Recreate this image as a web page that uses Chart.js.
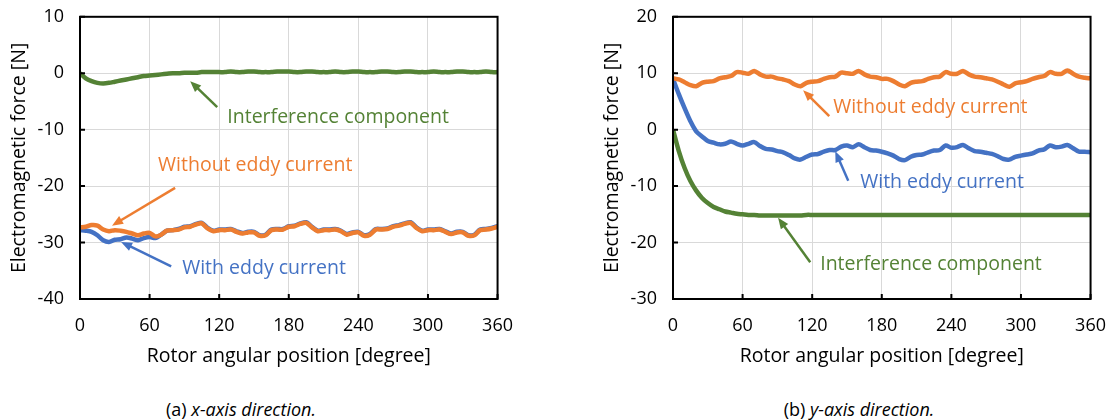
<!DOCTYPE html>
<html>
<head>
<meta charset="utf-8">
<script src="https://cdn.jsdelivr.net/npm/chart.js@4.4.1/dist/chart.umd.min.js"></script>
<style>
  body { margin: 0; background: #fff; width: 1109px; height: 420px; position: relative; overflow: hidden; font-family: 'Open Sans', sans-serif; }
  .panel { position: absolute; top: -10px; width: 529px; height: 382px; }
  .caption { position: absolute; top: 397px; width: 300px; font-size: 18px; color: #000; text-align: center; }
</style>
</head>
<body>
<div class="panel" style="left:0"><canvas id="graficoX"></canvas></div>
<div class="panel" style="left:593px"><canvas id="graficoY"></canvas></div>
<div class="caption" style="left:91px">(a) <i>x-axis direction.</i></div>
<div class="caption" style="left:709px">(b) <i>y-axis direction.</i></div>
<script>
// Posición angular del rotor [grados]
const angulos = [0, 5, 10, 15, 20, 25, 30, 35, 40, 45, 50, 55, 60, 65, 70, 75, 80, 85, 90,
  95, 100, 105, 110, 115, 120, 125, 130, 135, 140, 145, 150, 155, 160, 165, 170, 175, 180,
  185, 190, 195, 200, 205, 210, 215, 220, 225, 230, 235, 240, 245, 250, 255, 260, 265, 270,
  275, 280, 285, 290, 295, 300, 305, 310, 315, 320, 325, 330, 335, 340, 345, 350, 355, 360];

// Dirección x [N]
const xSinFoucault = [-27.3, -27.2, -26.9, -27.0, -27.7, -28.0, -27.8, -27.9, -28.1, -28.4, -28.7, -28.4, -28.3, -28.9, -28.6, -27.9, -27.8, -27.7, -27.3,
  -27.2, -26.8, -26.6, -27.5, -28.0, -27.8, -27.8, -27.7, -28.1, -28.4, -28.2, -28.2, -28.8, -28.7, -27.8, -27.7, -27.7, -27.2,
  -27.1, -26.7, -26.5, -27.3, -28.0, -27.8, -27.8, -27.7, -28.0, -28.6, -28.3, -28.2, -28.8, -28.6, -27.7, -27.7, -27.6, -27.2,
  -27.0, -26.7, -26.5, -27.4, -28.0, -27.8, -27.8, -27.7, -28.1, -28.5, -28.2, -28.2, -28.8, -28.7, -27.8, -27.7, -27.5, -27.2];
const xConFoucault = [-27.8, -27.9, -28.1, -28.7, -29.6, -29.9, -29.5, -29.4, -29.1, -29.3, -29.6, -29.2, -29.0, -29.2, -28.6, -27.9, -27.8, -27.6, -27.2,
  -27.1, -26.7, -26.5, -27.4, -27.9, -27.7, -27.7, -27.6, -28.0, -28.3, -28.1, -28.1, -28.7, -28.6, -27.7, -27.6, -27.6, -27.1,
  -27.0, -26.6, -26.4, -27.2, -27.9, -27.7, -27.7, -27.6, -27.9, -28.5, -28.2, -28.1, -28.7, -28.5, -27.6, -27.6, -27.5, -27.1,
  -26.9, -26.6, -26.4, -27.3, -27.9, -27.7, -27.7, -27.6, -28.0, -28.4, -28.1, -28.1, -28.7, -28.6, -27.7, -27.6, -27.4, -27.1];
const xInterferencia = [0, -0.9, -1.4, -1.7, -1.8, -1.7, -1.5, -1.3, -1.1, -0.9, -0.7, -0.5, -0.4, -0.3, -0.2, -0.1, 0.0, 0.0, 0.1,
  0.1, 0.1, 0.2, 0.2, 0.2, 0.2, 0.2, 0.3, 0.2, 0.2, 0.3, 0.3, 0.2, 0.2, 0.2, 0.3, 0.3, 0.3,
  0.2, 0.2, 0.3, 0.3, 0.2, 0.2, 0.2, 0.3, 0.2, 0.2, 0.3, 0.3, 0.2, 0.2, 0.2, 0.3, 0.3, 0.2,
  0.2, 0.3, 0.3, 0.2, 0.2, 0.2, 0.3, 0.2, 0.2, 0.2, 0.3, 0.3, 0.2, 0.2, 0.2, 0.3, 0.2, 0.2];

// Dirección y [N]
const ySinFoucault = [9.1, 8.9, 8.4, 7.9, 7.7, 8.3, 8.5, 8.6, 9.1, 9.3, 9.5, 10.2, 10.1, 9.9, 10.4, 9.8, 9.4, 9.4, 9.1,
  8.9, 8.6, 8.0, 7.7, 8.3, 8.5, 8.6, 9.0, 9.3, 9.4, 10.1, 10.0, 9.9, 10.4, 9.8, 9.4, 9.3, 9.0,
  9.0, 8.6, 8.0, 7.7, 8.3, 8.5, 8.6, 9.0, 9.3, 9.4, 10.2, 9.9, 9.9, 10.4, 9.8, 9.4, 9.3, 9.1,
  8.9, 8.5, 8.0, 7.6, 8.2, 8.4, 8.6, 9.0, 9.3, 9.5, 10.2, 9.9, 9.9, 10.5, 9.9, 9.4, 9.2, 9.1];
const yConFoucault = [9.0, 6.3, 3.8, 1.5, -0.3, -1.2, -2.0, -2.3, -2.6, -2.5, -2.1, -2.5, -2.8, -2.5, -2.2, -2.9, -3.4, -3.5, -3.8,
  -4.0, -4.5, -5.1, -5.3, -4.8, -4.4, -4.3, -3.9, -3.6, -3.6, -3.0, -2.8, -3.1, -2.6, -3.1, -3.6, -3.7, -3.9,
  -4.2, -4.6, -5.2, -5.4, -4.8, -4.5, -4.4, -4.0, -3.7, -3.6, -2.8, -3.2, -3.1, -2.7, -3.3, -3.8, -3.9, -4.1,
  -4.3, -4.7, -5.2, -5.3, -4.8, -4.6, -4.4, -4.2, -3.7, -3.5, -2.8, -3.1, -3.0, -2.7, -3.3, -3.9, -3.9, -4.0];
const yInterferencia = [0, -3.8, -6.8, -9.1, -10.8, -12.1, -13.0, -13.7, -14.1, -14.5, -14.7, -14.9, -15.0, -15.1, -15.1, -15.2, -15.2, -15.2, -15.2,
  -15.2, -15.2, -15.2, -15.2, -15.1, -15.1, -15.1, -15.1, -15.1, -15.1, -15.1, -15.1, -15.1, -15.1, -15.1, -15.1, -15.1, -15.1,
  -15.1, -15.1, -15.1, -15.1, -15.1, -15.1, -15.1, -15.1, -15.1, -15.1, -15.1, -15.1, -15.1, -15.1, -15.1, -15.1, -15.1, -15.1,
  -15.1, -15.1, -15.1, -15.1, -15.1, -15.1, -15.1, -15.1, -15.1, -15.1, -15.1, -15.1, -15.1, -15.1, -15.1, -15.1, -15.1, -15.1];

const AZUL = "#4472C4";
const NARANJA = "#ED7D31";
const VERDE = "#548235";

Chart.defaults.font.family = "'Open Sans', sans-serif";
Chart.defaults.color = "#000";

// Marco negro del área de trazado y marcas de escala hacia dentro
const marco = {
  id: "marco",
  afterDatasetsDraw(chart) {
    const { ctx, chartArea: a, scales: { x, y } } = chart;
    ctx.save();
    ctx.strokeStyle = "#000";
    ctx.lineWidth = 2;
    ctx.strokeRect(a.left, a.top, a.right - a.left, a.bottom - a.top);
    ctx.beginPath();
    x.ticks.forEach(t => {
      const px = x.getPixelForValue(t.value);
      ctx.moveTo(px, a.bottom);
      ctx.lineTo(px, a.bottom - 5);
    });
    y.ticks.forEach(t => {
      const py = y.getPixelForValue(t.value);
      ctx.moveTo(a.left, py);
      ctx.lineTo(a.left + 5, py);
    });
    ctx.stroke();
    ctx.restore();
  }
};

// Etiquetas con flecha, en coordenadas de datos
const notas = {
  id: "notas",
  afterDraw(chart, args, opts) {
    const { ctx, scales: { x, y } } = chart;
    ctx.save();
    (opts.items || []).forEach(n => {
      const x1 = x.getPixelForValue(n.desde[0]), y1 = y.getPixelForValue(n.desde[1]);
      const x2 = x.getPixelForValue(n.hasta[0]), y2 = y.getPixelForValue(n.hasta[1]);
      const ang = Math.atan2(y2 - y1, x2 - x1);
      ctx.strokeStyle = n.color;
      ctx.fillStyle = n.color;
      ctx.lineWidth = 2.5;
      ctx.beginPath();
      ctx.moveTo(x1, y1);
      ctx.lineTo(x2 - 8 * Math.cos(ang), y2 - 8 * Math.sin(ang));
      ctx.stroke();
      ctx.beginPath();
      ctx.moveTo(x2, y2);
      ctx.lineTo(x2 - 11 * Math.cos(ang) + 4.5 * Math.sin(ang), y2 - 11 * Math.sin(ang) - 4.5 * Math.cos(ang));
      ctx.lineTo(x2 - 11 * Math.cos(ang) - 4.5 * Math.sin(ang), y2 - 11 * Math.sin(ang) + 4.5 * Math.cos(ang));
      ctx.closePath();
      ctx.fill();
      ctx.font = "19.5px 'Open Sans', sans-serif";
      ctx.textAlign = "left";
      ctx.textBaseline = "middle";
      ctx.fillText(n.texto, x.getPixelForValue(n.pos[0]), y.getPixelForValue(n.pos[1]));
    });
    ctx.restore();
  }
};

function serie(label, valores, color) {
  return {
    label: label,
    data: angulos.map((a, i) => ({ x: a, y: valores[i] })),
    borderColor: color,
    backgroundColor: color,
    borderWidth: 4.5,
    pointRadius: 0,
    tension: 0.3
  };
}

function crearGrafico(id, datasets, yMin, yMax, items) {
  new Chart(document.getElementById(id), {
    type: "line",
    data: { datasets: datasets },
    plugins: [marco, notas],
    options: {
      responsive: true,
      maintainAspectRatio: false,
      animation: false,
      layout: { padding: { top: 4, right: 0, left: 0, bottom: 0 } },
      plugins: {
        legend: { display: false },
        tooltip: { enabled: false },
        notas: { items: items }
      },
      scales: {
        x: {
          type: "linear", min: 0, max: 360,
          afterFit: s => { s.height = 73; },
          ticks: { stepSize: 60, padding: 16, font: { size: 18 } },
          grid: { color: "#d9d9d9", drawTicks: false },
          border: { display: false },
          title: { display: true, text: "Rotor angular position [degree]", font: { size: 19.5 }, padding: { top: 6, bottom: 4 } }
        },
        y: {
          min: yMin, max: yMax,
          afterFit: s => { s.width = 80; },
          ticks: { stepSize: 10, padding: 16, font: { size: 18 } },
          grid: { color: "#d9d9d9", drawTicks: false },
          border: { display: false },
          title: { display: true, text: "Electromagnetic force [N]", font: { size: 19.5 }, padding: { top: 8, bottom: 4 } }
        }
      }
    }
  });
}

crearGrafico("graficoX", [
  serie("Without eddy current", xSinFoucault, NARANJA),
  serie("With eddy current", xConFoucault, AZUL),
  serie("Interference component", xInterferencia, VERDE)
], -40, 10, [
  { texto: "Interference component", color: VERDE, pos: [127, -7.8], desde: [118.3, -6.0], hasta: [95, -1.4] },
  { texto: "Without eddy current", color: NARANJA, pos: [67.3, -16.4], desde: [82, -20.3], hasta: [27.6, -27.0] },
  { texto: "With eddy current", color: AZUL, pos: [88.1, -34.5], desde: [78.6, -34.2], hasta: [35.4, -29.9] }
]);

crearGrafico("graficoY", [
  serie("Without eddy current", ySinFoucault, NARANJA),
  serie("With eddy current", yConFoucault, AZUL),
  serie("Interference component", yInterferencia, VERDE)
], -30, 20, [
  { texto: "Without eddy current", color: NARANJA, pos: [138.1, 4.0], desde: [134.7, 2.4], hasta: [112.2, 7.0] },
  { texto: "With eddy current", color: AZUL, pos: [161.4, -9.4], desde: [151.1, -9.05], hasta: [139.9, -3.8] },
  { texto: "Interference component", color: VERDE, pos: [126.9, -23.8], desde: [118.3, -23.5], hasta: [90.6, -15.6] }
]);
</script>
</body>
</html>
